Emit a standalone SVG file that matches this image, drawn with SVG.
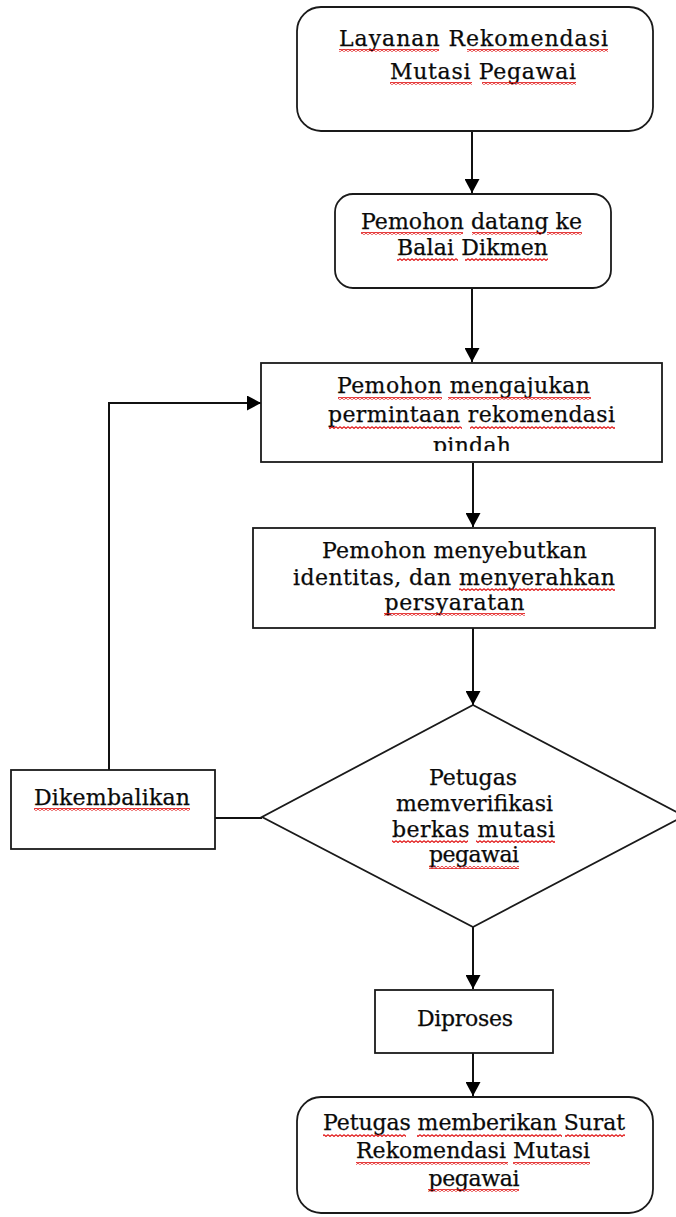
<svg xmlns="http://www.w3.org/2000/svg" width="676" height="1217" viewBox="0 0 676 1217">
<style>
.box{fill:#fff;stroke:#1a1a1a;stroke-width:1.8}
.t{font-family:"DejaVu Serif","Liberation Serif",serif;font-size:22px;fill:#0a0a0a;stroke:#0a0a0a;stroke-width:0.25;text-anchor:middle}
.c{fill:none;stroke:#111;stroke-width:2}
.sq{fill:url(#wave)}
</style>
<defs>
<marker id="ah" viewBox="0 0 14 15" refX="14" refY="7.5" markerWidth="14" markerHeight="15" markerUnits="userSpaceOnUse" orient="auto">
<path d="M0,0 L14,7.5 L0,15 z" fill="#000"/>
</marker>
<pattern id="wave" x="0" y="0" width="4" height="3" patternUnits="userSpaceOnUse">
<path d="M0,0.6 L2,2.4 L4,0.6" fill="none" stroke="#e01010" stroke-width="1.2"/>
</pattern>
<clipPath id="clip3"><rect x="262" y="364" width="400" height="87"/></clipPath>
</defs>

<g id="connectors">
<line class="c" x1="472" y1="131" x2="472" y2="193" marker-end="url(#ah)"/>
<line class="c" x1="472" y1="288" x2="472" y2="362" marker-end="url(#ah)"/>
<line class="c" x1="473" y1="463" x2="473" y2="527" marker-end="url(#ah)"/>
<line class="c" x1="473" y1="628" x2="473" y2="705" marker-end="url(#ah)"/>
<line class="c" x1="473" y1="927" x2="473" y2="989" marker-end="url(#ah)"/>
<line class="c" x1="473" y1="1053" x2="473" y2="1096" marker-end="url(#ah)"/>
<line class="c" x1="262" y1="818" x2="215" y2="818"/>
<polyline class="c" points="109,770 109,403 261,403" marker-end="url(#ah)"/>
</g>

<g id="n1">
<rect class="box" x="297" y="7" width="356" height="124" rx="24"/>
<text class="t" x="473.5" y="46" textLength="269" lengthAdjust="spacing">Layanan  Rekomendasi</text>
<text class="t" x="483" y="79" textLength="186" lengthAdjust="spacing">Mutasi Pegawai</text>
<rect class="sq" x="339" y="49" width="100" height="3"/>
<rect class="sq" x="467" y="49" width="141" height="3"/>
<rect class="sq" x="390" y="82" width="82" height="3"/>
<rect class="sq" x="482" y="82" width="94" height="3"/>
</g>

<g id="n2">
<rect class="box" x="335" y="194" width="276" height="94" rx="18"/>
<text class="t" x="471.5" y="229" textLength="221" lengthAdjust="spacing">Pemohon datang ke</text>
<text class="t" x="472.5" y="255" textLength="151" lengthAdjust="spacing">Balai Dikmen</text>
<rect class="sq" x="361" y="232" width="102" height="3"/>
<rect class="sq" x="472" y="232" width="70" height="3"/>
<rect class="sq" x="547" y="232" width="35" height="3"/>
<rect class="sq" x="397" y="258" width="61" height="3"/>
<rect class="sq" x="465" y="258" width="83" height="3"/>
</g>

<g id="n3">
<rect class="box" x="261" y="363" width="401" height="99"/>
<g clip-path="url(#clip3)">
<text class="t" x="463.5" y="393" textLength="253" lengthAdjust="spacing">Pemohon mengajukan</text>
<text class="t" x="471.5" y="422" textLength="287" lengthAdjust="spacing">permintaan rekomendasi</text>
<text class="t" x="472" y="453" textLength="78" lengthAdjust="spacing">pindah</text>
<rect class="sq" x="338" y="397" width="104" height="3"/>
<rect class="sq" x="448" y="397" width="143" height="3"/>
<rect class="sq" x="329" y="426" width="133" height="3"/>
<rect class="sq" x="470" y="426" width="145" height="3"/>
</g>
</g>

<g id="n4">
<rect class="box" x="253" y="528" width="402" height="100"/>
<text class="t" x="454.5" y="558" textLength="265" lengthAdjust="spacing">Pemohon menyebutkan</text>
<text class="t" x="454" y="585" textLength="322" lengthAdjust="spacing">identitas, dan menyerahkan</text>
<text class="t" x="454.5" y="610" textLength="140" lengthAdjust="spacing">persyaratan</text>
<rect class="sq" x="459" y="588" width="156" height="3"/>
<rect class="sq" x="384" y="613" width="141" height="3"/>
</g>

<g id="n5">
<polygon class="box" points="473,705 684,816 473,927 262,817"/>
<text class="t" x="473" y="785" textLength="88" lengthAdjust="spacing">Petugas</text>
<text class="t" x="474.5" y="811" textLength="157" lengthAdjust="spacing">memverifikasi</text>
<text class="t" x="473.5" y="837" textLength="163" lengthAdjust="spacing">berkas mutasi</text>
<text class="t" x="474" y="862" textLength="90" lengthAdjust="spacing">pegawai</text>
<rect class="sq" x="392" y="840" width="76" height="3"/>
<rect class="sq" x="476" y="840" width="79" height="3"/>
<rect class="sq" x="429" y="866" width="90" height="3"/>
</g>

<g id="n6">
<rect class="box" x="11" y="770" width="204" height="79"/>
<text class="t" x="112" y="805" textLength="156" lengthAdjust="spacing">Dikembalikan</text>
<rect class="sq" x="34" y="808" width="156" height="3"/>
</g>

<g id="n7">
<rect class="box" x="375" y="990" width="178" height="63"/>
<text class="t" x="465" y="1026" textLength="96" lengthAdjust="spacing">Diproses</text>
</g>

<g id="n8">
<rect class="box" x="297" y="1097" width="356" height="116" rx="24"/>
<text class="t" x="474" y="1130" textLength="302" lengthAdjust="spacing">Petugas memberikan Surat</text>
<text class="t" x="473" y="1158" textLength="234" lengthAdjust="spacing">Rekomendasi Mutasi</text>
<text class="t" x="474" y="1186" textLength="91" lengthAdjust="spacing">pegawai</text>
<rect class="sq" x="323" y="1134" width="83" height="3"/>
<rect class="sq" x="417" y="1134" width="145" height="3"/>
<rect class="sq" x="565" y="1134" width="60" height="3"/>
<rect class="sq" x="356" y="1162" width="152" height="3"/>
<rect class="sq" x="513" y="1162" width="77" height="3"/>
<rect class="sq" x="428" y="1189" width="91" height="3"/>
</g>
</svg>
